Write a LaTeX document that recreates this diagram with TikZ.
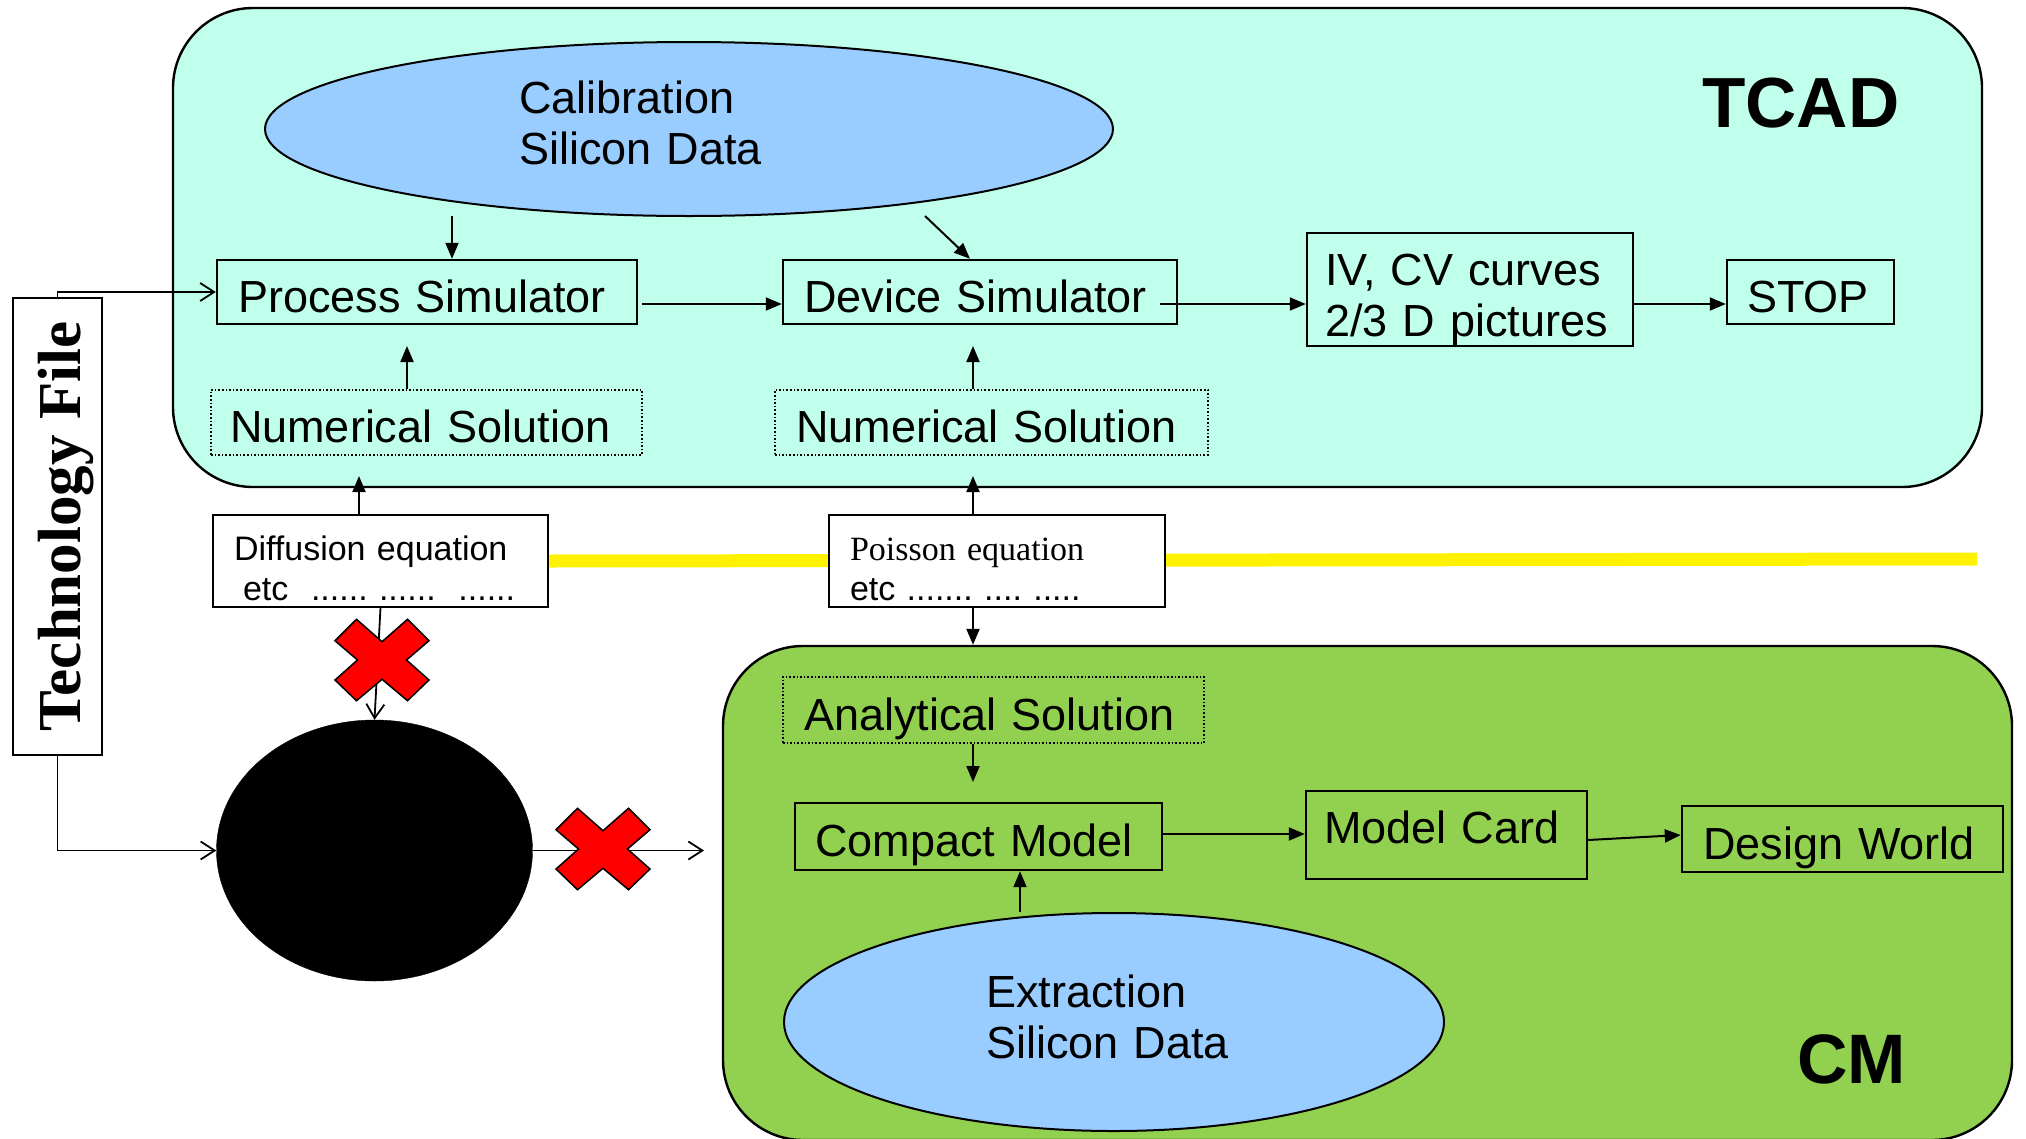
\documentclass[tikz,border=0pt]{standalone}
\usepackage{fontspec}
\setmainfont{Liberation Sans}
\newfontfamily\timesfam{Liberation Serif}
\usetikzlibrary{arrows.meta,shapes.geometric}
\definecolor{tcadfill}{RGB}{192,255,236}
\definecolor{calblue}{RGB}{153,204,255}
\definecolor{cmgreen}{RGB}{146,208,80}
\newcommand\szmain{\fontsize{45}{51}\selectfont}
\newcommand\szeq{\fontsize{34}{40}\selectfont}
\frenchspacing
\tikzset{
  panel/.style={draw, line width=2.4pt, rounded corners=80pt, inner sep=0pt},
  blob/.style={ellipse, draw, line width=2pt, inner sep=0pt},
  box/.style={draw, line width=2.4pt, inner ysep=0pt, align=left,
              text height=46pt, text depth=6pt},
  sbox/.style n args={4}{box, minimum width=#1, minimum height=#2,
              inner xsep=#3, text width=#4},
  dotbox/.style={line width=1.6pt, dash pattern=on 1.6pt off 2pt},
  eqbox/.style={fill=white, font=\szeq, text height=36pt, text depth=38pt},
  lbl/.style={inner sep=0pt, align=left, text width=320pt},
  arr/.style={draw, line width=2pt, -{Triangle[length=16pt,width=13pt]}},
  oarr/.style={draw, line width=1.8pt, -{Straight Barb[length=14pt,width=18pt,line width=1.8pt]}},
  hl/.style={draw=yellow, line width=13pt},
  redx/.pic={\draw[fill=red, line width=1.5pt, line join=miter]
    (-25.5,-40.7) -- (0,-18.3) -- (25.5,-40.7) -- (47,-19.3) -- (24.5,0)
    -- (47,20) -- (25.5,40.7) -- (0,19.3) -- (-25.5,40.7) -- (-47,20)
    -- (-24.5,0) -- (-47,-19.3) -- cycle;}
}
\begin{document}
\begin{tikzpicture}[x=1pt, y=-1pt, font=\szmain]
\useasboundingbox (0,0) rectangle (2026,1138);

% the two domains
\node[panel, fill=tcadfill, minimum width=1809pt, minimum height=479pt] (tcad) at (1077.5,247.5) {};
\node[panel, fill=cmgreen, minimum width=1289pt, minimum height=494pt] (cm) at (1367.5,893) {};

% boundary line between the two worlds
\coordinate (hlstart) at (548,561);
\coordinate (hlend) at (1977,559);
\draw[hl] (hlstart) -- (hlend);

% silicon data
\node[blob, fill=calblue, minimum width=848pt, minimum height=174pt] (cal) at (689,129) {};
\node[lbl, anchor=base west] (caltext) at (519,113) {Calibration\\Silicon Data};
\node[blob, fill=calblue, minimum width=660pt, minimum height=218pt] (ext) at (1114,1022) {};
\node[lbl, anchor=base west] (exttext) at (986,1007) {Extraction\\Silicon Data};

% TCAD flow
\node[sbox={420pt}{64pt}{21pt}{378pt}] (proc) at (427,292) {Process Simulator};
\node[sbox={394pt}{64pt}{21pt}{352pt}] (dev) at (980,292) {Device Simulator};
\node[sbox={326pt}{113pt}{18pt}{290pt}, text height=45pt, text depth=54pt] (iv) at (1470,289.5) {IV, CV curves\\2/3 D pictures};
\node[sbox={167pt}{64pt}{20pt}{127pt}] (stop) at (1810.5,292) {STOP};
\node[sbox={431pt}{65pt}{19pt}{393pt}, dotbox] (ns1) at (426.5,422.5) {Numerical Solution};
\node[sbox={433pt}{65pt}{21pt}{391pt}, dotbox] (ns2) at (991.5,422.5) {Numerical Solution};

% governing equations
\node[sbox={335pt}{92pt}{21pt}{293pt}, eqbox, line width=2pt] (diff) at (380.5,561)
  {Diffusion equation\\\hspace*{9pt}etc~~...... ......~~......};
\node[sbox={336pt}{92pt}{21pt}{294pt}, eqbox, line width=2pt] (pois) at (997,561)
  {{\timesfam Poisson equation}\\etc ....... .... .....};

% compact model flow
\node[sbox={421pt}{66pt}{21pt}{379pt}, dotbox] (an) at (993.5,710) {Analytical Solution};
\node[sbox={367pt}{67pt}{20pt}{327pt}] (cmod) at (978.5,836.5) {Compact Model};
\node[sbox={281pt}{88pt}{18pt}{245pt}, text height=30pt, text depth=14pt] (mcard) at (1446.5,835) {Model Card};
\node[sbox={321pt}{66pt}{21pt}{279pt}] (dw) at (1842.5,839) {Design World};

% technology file and the empty path
\node[draw, fill=white, line width=2.4pt, rotate=90, minimum width=457pt, minimum height=89pt,
      inner sep=0pt, font=\timesfam\bfseries\fontsize{61}{61}\selectfont,
      text height=50pt, text depth=5pt] (tech) at (57.5,526.5) {Technology File};
\node[ellipse, fill=black, draw=black, minimum width=316pt, minimum height=261pt, inner sep=0pt] (blk) at (374.5,850.5) {};

% titles
\node[anchor=base west, inner sep=0pt, font=\bfseries\fontsize{71}{71}\selectfont] (tcadlbl) at (1702,127) {TCAD};
\node[anchor=base west, inner sep=0pt, font=\bfseries\fontsize{70}{70}\selectfont] (cmlbl) at (1797,1083) {CM};

% helper points for the connectors
\coordinate (k1) at (452,216);
\coordinate (k2) at (925,216);
\coordinate (k2b) at (970,0);
\coordinate (k3) at (642,304);
\coordinate (k4) at (1160,304);
\coordinate (tipP) at (407,346);
\coordinate (tipD) at (973,346);
\coordinate (tipN1) at (359,476);
\coordinate (tipN2) at (973,476);
\coordinate (k5) at (973,782);
\coordinate (k6) at (0,834);
\coordinate (k7) at (0,840);
\coordinate (k8) at (0,835);
\coordinate (k9) at (1020,0);
\coordinate (k10) at (704,0);

% TCAD connectors
\draw[arr] (k1) -- (k1 |- proc.north);
\draw[arr] (k2) -- (k2b |- dev.north);
\draw[arr] (k3) -- (k3 -| dev.west);
\draw[arr] (k4) -- (k4 -| iv.west);
\draw[arr] (k4 -| iv.east) -- (k4 -| stop.west);
\draw[arr] (tipP |- ns1.north) -- (tipP);
\draw[arr] (tipD |- ns2.north) -- (tipD);
\draw[arr] (tipN1 |- diff.north) -- (tipN1);
\draw[arr] (tipN2 |- pois.north) -- (tipN2);
\draw[arr] (tipN2 |- pois.south) -- (tipN2 |- cm.north);

% CM connectors
\draw[arr] (k5 |- an.south) -- (k5);
\draw[arr] (k6 -| cmod.east) -- (k6 -| mcard.west);
\draw[arr] (k7 -| mcard.east) -- (k8 -| dw.west);
\draw[arr] (k9 |- ext.north) -- (k9 |- cmod.south);

% technology file and blocked links
\draw[oarr] (tech.east) |- (proc.west);
\draw[oarr] (tech.west) |- (blk.west);
\draw[oarr] (blk.east) -- (blk.east -| k10);
\draw[oarr] (diff.south) -- (blk.north);
\pic at (382,660) {redx};
\pic at (603,849) {redx};
\end{tikzpicture}
\end{document}
